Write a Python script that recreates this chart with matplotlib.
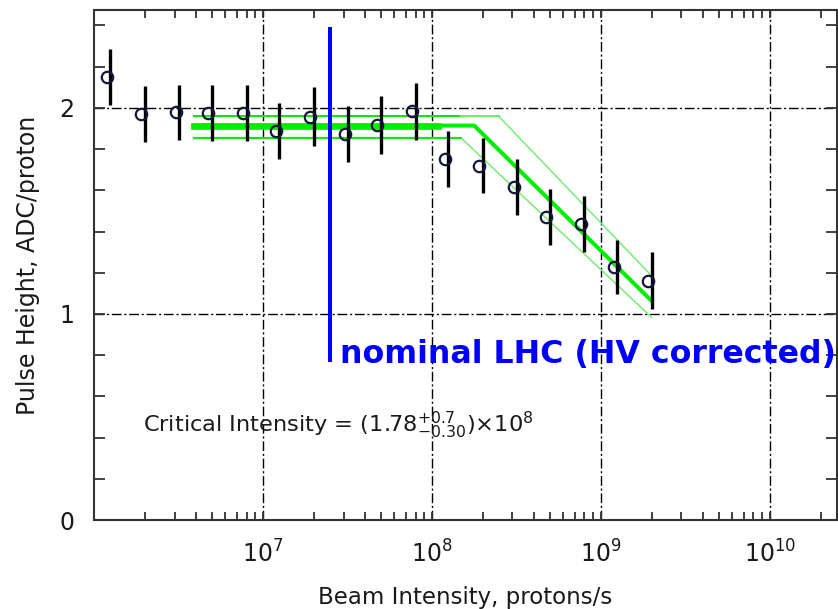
import matplotlib
matplotlib.use("Agg")
import matplotlib.pyplot as plt
from matplotlib import transforms
from matplotlib.ticker import FixedLocator, LogLocator, NullFormatter, MultipleLocator

plt.rcParams['font.family'] = ['DejaVu Sans']
plt.rcParams['mathtext.fontset'] = 'dejavusans'
plt.rcParams['lines.scale_dashes'] = False

# Measured pulse height per proton vs beam intensity
intensity = [1.25e6, 2e6, 3.2e6, 5e6, 8e6, 1.25e7, 2e7, 3.2e7, 5e7, 8e7,
             1.25e8, 2e8, 3.2e8, 5e8, 8e8, 1.25e9, 2e9]
pulse_height = [2.15, 1.97, 1.978, 1.974, 1.974, 1.889, 1.958, 1.874, 1.917, 1.984,
                1.753, 1.719, 1.617, 1.471, 1.438, 1.228, 1.161]
pulse_err = [0.138, 0.135, 0.133, 0.137, 0.137, 0.137, 0.141, 0.137, 0.141, 0.139,
             0.135, 0.133, 0.135, 0.135, 0.135, 0.132, 0.138]

# Broken-line fit (plateau + log-linear fall-off) and its error band
fit_x = [3.9e6, 1.78e8, 2.0e9]
fit_y = [1.914, 1.914, 1.063]
plateau_x = [3.9e6, 1.08e8]
band_hi_x = [3.9e6, 2.48e8, 2.0e9]
band_hi_y = [1.96, 1.96, 1.185]
band_lo_x = [3.9e6, 1.48e8, 2.0e9]
band_lo_y = [1.856, 1.856, 0.983]

# Nominal LHC intensity marker
nominal_x = 2.5e7
nominal_y = [0.775, 2.383]

x_major = [1e7, 1e8, 1e9, 1e10]
y_major = [0, 1, 2]
y_labels = ["0", "1", "2"]

fig = plt.figure(figsize=(8.38, 6.09), dpi=100)
ax = fig.add_axes([94 / 838, 1 - 520 / 609, 743 / 838, 510 / 609])

ax.set_xscale('log')
ax.set_xlim(1e6, 2.5e10)
ax.set_ylim(0, 2.475)

ax.xaxis.set_major_locator(FixedLocator(x_major))
ax.xaxis.set_minor_locator(LogLocator(base=10, subs=range(2, 10), numticks=20))
ax.xaxis.set_minor_formatter(NullFormatter())
ax.yaxis.set_major_locator(FixedLocator(y_major))
ax.set_yticklabels(y_labels)
ax.yaxis.set_minor_locator(MultipleLocator(0.2))

ax.tick_params(which='both', direction='in', top=True, right=True,
               width=1.3, color='#333333', labelsize=17, labelcolor='#1a1a1a')
ax.tick_params(axis='x', which='both', length=6, pad=15)
ax.tick_params(axis='y', which='both', length=8, pad=14)

for s in ax.spines.values():
    s.set_linewidth(1.5)
    s.set_color('#333333')

ax.set_axisbelow(True)
ax.grid(True, which='major', color='black', linewidth=1.0,
        linestyle=(0, (7, 2, 1.5, 2)))

bright = '#00ee00'
pale = '#77ee77'

# error band
ax.plot(band_hi_x, band_hi_y, color=pale, lw=1.1, zorder=2)
ax.plot(band_lo_x, band_lo_y, color=pale, lw=1.1, zorder=2)
ax.plot(band_hi_x[:2], [band_hi_y[0]] * 2, color=bright, lw=1.4, zorder=2)
ax.plot(band_lo_x[:2], [band_lo_y[0]] * 2, color=bright, lw=1.4, zorder=2)
ax.plot([band_lo_x[1], band_hi_x[1]], [band_hi_y[0]] * 2, color=pale, lw=1.3, zorder=2)

# central fit
ax.plot(fit_x, fit_y, color=bright, lw=2.9, solid_joinstyle='round', zorder=3)
ax.plot(plateau_x, [fit_y[0]] * 2, color=bright, lw=4.8, zorder=3)

# data
ax.errorbar(intensity, pulse_height, yerr=pulse_err, fmt='none',
            ecolor='black', elinewidth=2.4, capsize=0, zorder=4)
marker_tr = transforms.offset_copy(ax.transData, fig=fig, x=-2.6, y=0, units='points')
ax.plot(intensity, pulse_height, linestyle='none', marker='o', markersize=8.2,
        markerfacecolor='none', markeredgecolor='#16163a', markeredgewidth=1.6,
        transform=marker_tr, zorder=5)

# nominal LHC line
ax.plot([nominal_x, nominal_x], nominal_y, color='#0000ff', lw=2.9, zorder=6)
ax.text(0.331, 0.308, "nominal LHC (HV corrected)", transform=ax.transAxes,
        color='#0000ff', fontsize=22.8, fontweight='bold', va='baseline',
        ha='left', clip_on=False, zorder=7)

ax.text(0.066, 0.1725, r"Critical Intensity = (1.78$^{+0.7}_{-0.30}$)$\times$10$^{8}$",
        transform=ax.transAxes, fontsize=16.2, color='#1a1a1a',
        va='baseline', ha='left')

ax.set_xlabel("Beam Intensity, protons/s", fontsize=16.5, color='#1a1a1a', labelpad=13)
ax.set_ylabel("Pulse Height, ADC/proton", fontsize=17, color='#1a1a1a', labelpad=14)

fig.savefig("out.png", dpi=100)
